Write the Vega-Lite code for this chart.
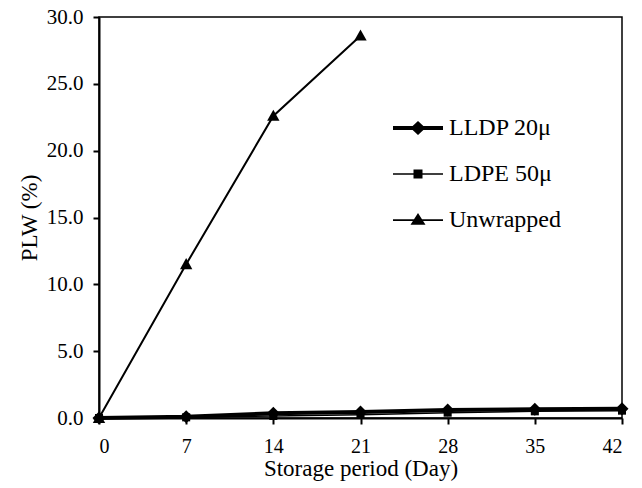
{
  "$schema": "https://vega.github.io/schema/vega-lite/v6.json",
  "width": 523,
  "height": 401,
  "autosize": {"type": "none"},
  "padding": {"left": 99, "top": 17, "right": 20, "bottom": 70},
  "background": "white",
  "config": {
    "font": "Liberation Serif, serif",
    "view": {"stroke": "black", "strokeWidth": 1.5},
    "axis": {
      "labelFont": "Liberation Serif, serif",
      "titleFont": "Liberation Serif, serif",
      "labelFontSize": 21,
      "titleFontSize": 23,
      "titleFontWeight": "normal",
      "labelColor": "black",
      "titleColor": "black",
      "domainColor": "black",
      "tickColor": "black",
      "domainWidth": 2,
      "tickWidth": 2,
      "tickSize": 6,
      "grid": false
    },
    "legend": {
      "labelFont": "Liberation Serif, serif",
      "labelFontSize": 24,
      "labelColor": "black",
      "symbolSize": 2500,
      "clipHeight": 46,
      "rowPadding": 0,
      "labelOffset": 5,
      "padding": 0
    }
  },
  "data": {
    "values": [
      {"day": 0, "plw": 0.0, "series": "LLDP 20μ"},
      {"day": 7, "plw": 0.1, "series": "LLDP 20μ"},
      {"day": 14, "plw": 0.35, "series": "LLDP 20μ"},
      {"day": 21, "plw": 0.45, "series": "LLDP 20μ"},
      {"day": 28, "plw": 0.6, "series": "LLDP 20μ"},
      {"day": 35, "plw": 0.65, "series": "LLDP 20μ"},
      {"day": 42, "plw": 0.7, "series": "LLDP 20μ"},
      {"day": 0, "plw": 0.0, "series": "LDPE 50μ"},
      {"day": 7, "plw": 0.05, "series": "LDPE 50μ"},
      {"day": 14, "plw": 0.15, "series": "LDPE 50μ"},
      {"day": 21, "plw": 0.25, "series": "LDPE 50μ"},
      {"day": 28, "plw": 0.4, "series": "LDPE 50μ"},
      {"day": 35, "plw": 0.5, "series": "LDPE 50μ"},
      {"day": 42, "plw": 0.55, "series": "LDPE 50μ"},
      {"day": 0, "plw": 0.0, "series": "Unwrapped"},
      {"day": 7, "plw": 11.5, "series": "Unwrapped"},
      {"day": 14, "plw": 22.6, "series": "Unwrapped"},
      {"day": 21, "plw": 28.6, "series": "Unwrapped"}
    ]
  },
  "encoding": {
    "x": {
      "field": "day", "type": "quantitative",
      "scale": {"domain": [0, 42], "nice": false, "zero": false},
      "axis": {"values": [0, 7, 14, 21, 28, 35, 42], "title": "Storage period (Day)", "labelFontSize": 20, "labelPadding": 12, "titlePadding": 1}
    },
    "y": {
      "field": "plw", "type": "quantitative",
      "scale": {"domain": [0, 30], "nice": false},
      "axis": {"values": [0, 5, 10, 15, 20, 25, 30], "format": ".1f", "title": "PLW (%)", "labelPadding": 10, "titlePadding": 5}
    }
  },
  "layer": [
    {
      "transform": [{"filter": "datum.series === 'Unwrapped'"}],
      "mark": {"type": "line", "color": "black", "strokeWidth": 2}
    },
    {
      "transform": [{"filter": "datum.series === 'LDPE 50μ'"}],
      "mark": {"type": "line", "color": "black", "strokeWidth": 1.5}
    },
    {
      "transform": [{"filter": "datum.series === 'LLDP 20μ'"}],
      "mark": {"type": "line", "color": "black", "strokeWidth": 4}
    },
    {
      "mark": {"type": "point", "filled": true, "color": "black", "opacity": 1, "size": 169},
      "encoding": {
        "shape": {
          "field": "series", "type": "nominal",
          "scale": {
            "domain": ["LLDP 20μ", "LDPE 50μ", "Unwrapped"],
            "range": ["M0,-1L1,0L0,1L-1,0Z", "M-0.62,-0.62H0.62V0.62H-0.62Z", "M0,-0.95L0.95,0.75H-0.95Z"]
          },
          "legend": null
        }
      }
    },
    {
      "transform": [{"filter": "datum.day < 0"}],
      "mark": {"type": "point", "filled": true, "fill": "black", "strokeWidth": 0, "opacity": 1},
      "encoding": {
        "shape": {
          "field": "series", "type": "nominal",
          "scale": {
            "domain": ["LLDP 20μ", "LDPE 50μ", "Unwrapped"],
            "range": [
              "M-1,-0.08H1V0.08H-1ZM0,-0.28L0.3,0L0,0.28L-0.3,0Z",
              "M-1,-0.03H1V0.03H-1ZM-0.18,-0.18H0.18V0.18H-0.18Z",
              "M-1,-0.035H1V0.035H-1ZM0,-0.28L0.3,0.19H-0.3Z"
            ]
          },
          "legend": {"title": null, "orient": "none", "legendX": 293, "legendY": 88}
        }
      }
    }
  ],
  "resolve": {"scale": {"shape": "independent"}, "legend": {"shape": "independent"}}
}
